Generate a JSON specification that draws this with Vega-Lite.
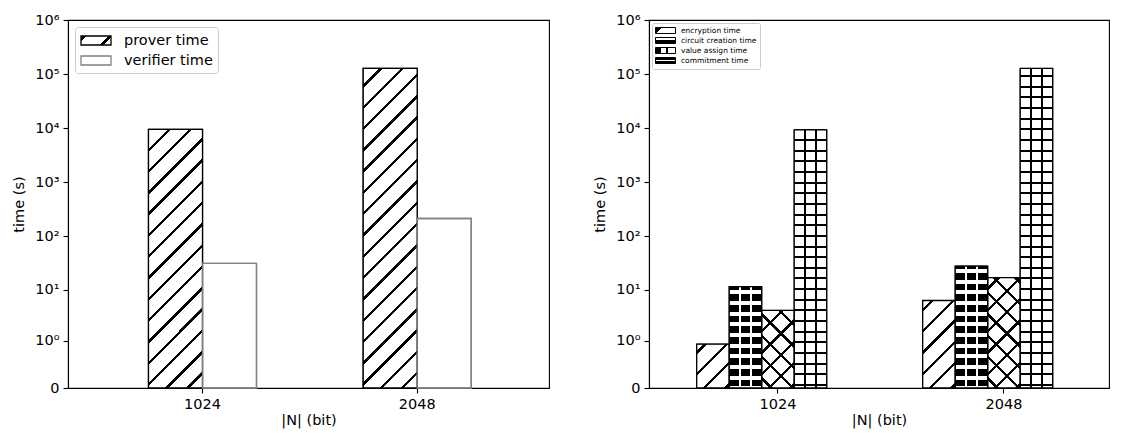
{
  "$schema": "https://vega.github.io/schema/vega-lite/v6.json",
  "background": "white",
  "padding": {"left": 11, "top": 11, "right": 5, "bottom": 5},
  "spacing": 42,
  "config": {
    "font": "DejaVu Sans",
    "view": {"stroke": "#000", "strokeWidth": 1.1},
    "axis": {
      "labelFont": "DejaVu Sans", "labelFontSize": 14.5, "titleFont": "DejaVu Sans", "titleFontSize": 14.5,
      "titleFontWeight": "normal", "labelColor": "#000", "titleColor": "#000", "tickColor": "#000",
      "domainColor": "#000", "tickSize": 5, "tickWidth": 1.1, "domainWidth": 1.1, "grid": false, "labelPadding": 4
    }
  },
  "params": [
    {"name": "stL", "value": [
      {"offset":0.15308,"color":"#fff"},{"offset":0.15308,"color":"#000"},{"offset":0.16114,"color":"#000"},{"offset":0.16114,"color":"#fff"},
      {"offset":0.20355,"color":"#fff"},{"offset":0.20355,"color":"#000"},{"offset":0.21161,"color":"#000"},{"offset":0.21161,"color":"#fff"},
      {"offset":0.25403,"color":"#fff"},{"offset":0.25403,"color":"#000"},{"offset":0.26208,"color":"#000"},{"offset":0.26208,"color":"#fff"},
      {"offset":0.30450,"color":"#fff"},{"offset":0.30450,"color":"#000"},{"offset":0.31256,"color":"#000"},{"offset":0.31256,"color":"#fff"},
      {"offset":0.35498,"color":"#fff"},{"offset":0.35498,"color":"#000"},{"offset":0.36303,"color":"#000"},{"offset":0.36303,"color":"#fff"},
      {"offset":0.40545,"color":"#fff"},{"offset":0.40545,"color":"#000"},{"offset":0.41351,"color":"#000"},{"offset":0.41351,"color":"#fff"},
      {"offset":0.45592,"color":"#fff"},{"offset":0.45592,"color":"#000"},{"offset":0.46398,"color":"#000"},{"offset":0.46398,"color":"#fff"},
      {"offset":0.50640,"color":"#fff"},{"offset":0.50640,"color":"#000"},{"offset":0.51445,"color":"#000"},{"offset":0.51445,"color":"#fff"},
      {"offset":0.55687,"color":"#fff"},{"offset":0.55687,"color":"#000"},{"offset":0.56493,"color":"#000"},{"offset":0.56493,"color":"#fff"},
      {"offset":0.60735,"color":"#fff"},{"offset":0.60735,"color":"#000"},{"offset":0.61540,"color":"#000"},{"offset":0.61540,"color":"#fff"},
      {"offset":0.65782,"color":"#fff"},{"offset":0.65782,"color":"#000"},{"offset":0.66588,"color":"#000"},{"offset":0.66588,"color":"#fff"},
      {"offset":0.70829,"color":"#fff"},{"offset":0.70829,"color":"#000"},{"offset":0.71635,"color":"#000"},{"offset":0.71635,"color":"#fff"},
      {"offset":0.75877,"color":"#fff"},{"offset":0.75877,"color":"#000"},{"offset":0.76682,"color":"#000"},{"offset":0.76682,"color":"#fff"},
      {"offset":0.80924,"color":"#fff"},{"offset":0.80924,"color":"#000"},{"offset":0.81730,"color":"#000"},{"offset":0.81730,"color":"#fff"},
      {"offset":0.85972,"color":"#fff"},{"offset":0.85972,"color":"#000"},{"offset":0.86777,"color":"#000"},{"offset":0.86777,"color":"#fff"},
      {"offset":0.91019,"color":"#fff"},{"offset":0.91019,"color":"#000"},{"offset":0.91825,"color":"#000"},{"offset":0.91825,"color":"#fff"},
      {"offset":0.96066,"color":"#fff"},{"offset":0.96066,"color":"#000"},{"offset":0.96872,"color":"#000"},{"offset":0.96872,"color":"#fff"}
    ]},
    {"name": "stRs", "value": [
      {"offset":0.66692,"color":"#fff"},{"offset":0.66692,"color":"#000"},{"offset":0.67541,"color":"#000"},{"offset":0.67541,"color":"#fff"},
      {"offset":0.72010,"color":"#fff"},{"offset":0.72010,"color":"#000"},{"offset":0.72859,"color":"#000"},{"offset":0.72859,"color":"#fff"},
      {"offset":0.77329,"color":"#fff"},{"offset":0.77329,"color":"#000"},{"offset":0.78178,"color":"#000"},{"offset":0.78178,"color":"#fff"},
      {"offset":0.82647,"color":"#fff"},{"offset":0.82647,"color":"#000"},{"offset":0.83496,"color":"#000"},{"offset":0.83496,"color":"#fff"},
      {"offset":0.87966,"color":"#fff"},{"offset":0.87966,"color":"#000"},{"offset":0.88815,"color":"#000"},{"offset":0.88815,"color":"#fff"},
      {"offset":0.93284,"color":"#fff"},{"offset":0.93284,"color":"#000"},{"offset":0.94133,"color":"#000"},{"offset":0.94133,"color":"#fff"},
      {"offset":0.98603,"color":"#fff"},{"offset":0.98603,"color":"#000"},{"offset":0.99452,"color":"#000"},{"offset":0.99452,"color":"#fff"}
    ]},
    {"name": "stRb", "value": [
      {"offset":0.05533,"color":"rgba(0,0,0,0)"},{"offset":0.05533,"color":"#000"},{"offset":0.07800,"color":"#000"},{"offset":0.07800,"color":"rgba(0,0,0,0)"},
      {"offset":0.19733,"color":"rgba(0,0,0,0)"},{"offset":0.19733,"color":"#000"},{"offset":0.22000,"color":"#000"},{"offset":0.22000,"color":"rgba(0,0,0,0)"},
      {"offset":0.33933,"color":"rgba(0,0,0,0)"},{"offset":0.33933,"color":"#000"},{"offset":0.36200,"color":"#000"},{"offset":0.36200,"color":"rgba(0,0,0,0)"},
      {"offset":0.48133,"color":"rgba(0,0,0,0)"},{"offset":0.48133,"color":"#000"},{"offset":0.50400,"color":"#000"},{"offset":0.50400,"color":"rgba(0,0,0,0)"},
      {"offset":0.62333,"color":"rgba(0,0,0,0)"},{"offset":0.62333,"color":"#000"},{"offset":0.64600,"color":"#000"},{"offset":0.64600,"color":"rgba(0,0,0,0)"},
      {"offset":0.76533,"color":"rgba(0,0,0,0)"},{"offset":0.76533,"color":"#000"},{"offset":0.78800,"color":"#000"},{"offset":0.78800,"color":"rgba(0,0,0,0)"},
      {"offset":0.90733,"color":"rgba(0,0,0,0)"},{"offset":0.90733,"color":"#000"},{"offset":0.93000,"color":"#000"},{"offset":0.93000,"color":"rgba(0,0,0,0)"}
    ]},
    {"name": "stH", "value": [
      {"offset":0.14986,"color":"#fff"},{"offset":0.14986,"color":"#000"},{"offset":0.15530,"color":"#000"},{"offset":0.15530,"color":"#fff"},
      {"offset":0.17880,"color":"#fff"},{"offset":0.17880,"color":"#000"},{"offset":0.18424,"color":"#000"},{"offset":0.18424,"color":"#fff"},
      {"offset":0.20774,"color":"#fff"},{"offset":0.20774,"color":"#000"},{"offset":0.21318,"color":"#000"},{"offset":0.21318,"color":"#fff"},
      {"offset":0.23668,"color":"#fff"},{"offset":0.23668,"color":"#000"},{"offset":0.24212,"color":"#000"},{"offset":0.24212,"color":"#fff"},
      {"offset":0.26562,"color":"#fff"},{"offset":0.26562,"color":"#000"},{"offset":0.27106,"color":"#000"},{"offset":0.27106,"color":"#fff"},
      {"offset":0.29456,"color":"#fff"},{"offset":0.29456,"color":"#000"},{"offset":0.30000,"color":"#000"},{"offset":0.30000,"color":"#fff"},
      {"offset":0.32350,"color":"#fff"},{"offset":0.32350,"color":"#000"},{"offset":0.32894,"color":"#000"},{"offset":0.32894,"color":"#fff"},
      {"offset":0.35244,"color":"#fff"},{"offset":0.35244,"color":"#000"},{"offset":0.35788,"color":"#000"},{"offset":0.35788,"color":"#fff"},
      {"offset":0.38138,"color":"#fff"},{"offset":0.38138,"color":"#000"},{"offset":0.38682,"color":"#000"},{"offset":0.38682,"color":"#fff"},
      {"offset":0.41032,"color":"#fff"},{"offset":0.41032,"color":"#000"},{"offset":0.41576,"color":"#000"},{"offset":0.41576,"color":"#fff"},
      {"offset":0.43926,"color":"#fff"},{"offset":0.43926,"color":"#000"},{"offset":0.44470,"color":"#000"},{"offset":0.44470,"color":"#fff"},
      {"offset":0.46820,"color":"#fff"},{"offset":0.46820,"color":"#000"},{"offset":0.47364,"color":"#000"},{"offset":0.47364,"color":"#fff"},
      {"offset":0.49714,"color":"#fff"},{"offset":0.49714,"color":"#000"},{"offset":0.50258,"color":"#000"},{"offset":0.50258,"color":"#fff"},
      {"offset":0.52608,"color":"#fff"},{"offset":0.52608,"color":"#000"},{"offset":0.53152,"color":"#000"},{"offset":0.53152,"color":"#fff"},
      {"offset":0.55502,"color":"#fff"},{"offset":0.55502,"color":"#000"},{"offset":0.56046,"color":"#000"},{"offset":0.56046,"color":"#fff"},
      {"offset":0.58396,"color":"#fff"},{"offset":0.58396,"color":"#000"},{"offset":0.58940,"color":"#000"},{"offset":0.58940,"color":"#fff"},
      {"offset":0.61290,"color":"#fff"},{"offset":0.61290,"color":"#000"},{"offset":0.61834,"color":"#000"},{"offset":0.61834,"color":"#fff"},
      {"offset":0.64184,"color":"#fff"},{"offset":0.64184,"color":"#000"},{"offset":0.64728,"color":"#000"},{"offset":0.64728,"color":"#fff"},
      {"offset":0.67078,"color":"#fff"},{"offset":0.67078,"color":"#000"},{"offset":0.67622,"color":"#000"},{"offset":0.67622,"color":"#fff"},
      {"offset":0.69972,"color":"#fff"},{"offset":0.69972,"color":"#000"},{"offset":0.70516,"color":"#000"},{"offset":0.70516,"color":"#fff"},
      {"offset":0.72866,"color":"#fff"},{"offset":0.72866,"color":"#000"},{"offset":0.73410,"color":"#000"},{"offset":0.73410,"color":"#fff"},
      {"offset":0.75760,"color":"#fff"},{"offset":0.75760,"color":"#000"},{"offset":0.76304,"color":"#000"},{"offset":0.76304,"color":"#fff"},
      {"offset":0.78654,"color":"#fff"},{"offset":0.78654,"color":"#000"},{"offset":0.79198,"color":"#000"},{"offset":0.79198,"color":"#fff"},
      {"offset":0.81548,"color":"#fff"},{"offset":0.81548,"color":"#000"},{"offset":0.82092,"color":"#000"},{"offset":0.82092,"color":"#fff"},
      {"offset":0.84442,"color":"#fff"},{"offset":0.84442,"color":"#000"},{"offset":0.84986,"color":"#000"},{"offset":0.84986,"color":"#fff"},
      {"offset":0.87336,"color":"#fff"},{"offset":0.87336,"color":"#000"},{"offset":0.87880,"color":"#000"},{"offset":0.87880,"color":"#fff"},
      {"offset":0.90230,"color":"#fff"},{"offset":0.90230,"color":"#000"},{"offset":0.90774,"color":"#000"},{"offset":0.90774,"color":"#fff"},
      {"offset":0.93124,"color":"#fff"},{"offset":0.93124,"color":"#000"},{"offset":0.93668,"color":"#000"},{"offset":0.93668,"color":"#fff"},
      {"offset":0.96018,"color":"#fff"},{"offset":0.96018,"color":"#000"},{"offset":0.96562,"color":"#000"},{"offset":0.96562,"color":"#fff"},
      {"offset":0.98912,"color":"#fff"},{"offset":0.98912,"color":"#000"},{"offset":0.99456,"color":"#000"},{"offset":0.99456,"color":"#fff"}
    ]},
    {"name": "stV", "value": [
      {"offset":0.30246,"color":"rgba(0,0,0,0)"},{"offset":0.30246,"color":"#000"},{"offset":0.36400,"color":"#000"},{"offset":0.36400,"color":"rgba(0,0,0,0)"},
      {"offset":0.63600,"color":"rgba(0,0,0,0)"},{"offset":0.63600,"color":"#000"},{"offset":0.69754,"color":"#000"},{"offset":0.69754,"color":"rgba(0,0,0,0)"}
    ]},
    {"name": "stSB", "value": [
      {"offset":0.65910,"color":"#fff"},{"offset":0.65910,"color":"#000"},{"offset":0.67704,"color":"#000"},{"offset":0.67704,"color":"#fff"},
      {"offset":0.68804,"color":"#fff"},{"offset":0.68804,"color":"#000"},{"offset":0.70598,"color":"#000"},{"offset":0.70598,"color":"#fff"},
      {"offset":0.71698,"color":"#fff"},{"offset":0.71698,"color":"#000"},{"offset":0.73492,"color":"#000"},{"offset":0.73492,"color":"#fff"},
      {"offset":0.74592,"color":"#fff"},{"offset":0.74592,"color":"#000"},{"offset":0.76386,"color":"#000"},{"offset":0.76386,"color":"#fff"},
      {"offset":0.77486,"color":"#fff"},{"offset":0.77486,"color":"#000"},{"offset":0.79280,"color":"#000"},{"offset":0.79280,"color":"#fff"},
      {"offset":0.80380,"color":"#fff"},{"offset":0.80380,"color":"#000"},{"offset":0.82174,"color":"#000"},{"offset":0.82174,"color":"#fff"},
      {"offset":0.83274,"color":"#fff"},{"offset":0.83274,"color":"#000"},{"offset":0.85068,"color":"#000"},{"offset":0.85068,"color":"#fff"},
      {"offset":0.86168,"color":"#fff"},{"offset":0.86168,"color":"#000"},{"offset":0.87962,"color":"#000"},{"offset":0.87962,"color":"#fff"},
      {"offset":0.89062,"color":"#fff"},{"offset":0.89062,"color":"#000"},{"offset":0.90856,"color":"#000"},{"offset":0.90856,"color":"#fff"},
      {"offset":0.91956,"color":"#fff"},{"offset":0.91956,"color":"#000"},{"offset":0.93750,"color":"#000"},{"offset":0.93750,"color":"#fff"},
      {"offset":0.94850,"color":"#fff"},{"offset":0.94850,"color":"#000"},{"offset":0.96644,"color":"#000"},{"offset":0.96644,"color":"#fff"},
      {"offset":0.97744,"color":"#fff"},{"offset":0.97744,"color":"#000"},{"offset":0.99538,"color":"#000"},{"offset":0.99538,"color":"#fff"}
    ]},
    {"name": "stSV", "value": [
      {"offset":0.29631,"color":"rgba(255,255,255,0)"},{"offset":0.29631,"color":"#fff"},{"offset":0.37015,"color":"#fff"},{"offset":0.37015,"color":"rgba(255,255,255,0)"},
      {"offset":0.62985,"color":"rgba(255,255,255,0)"},{"offset":0.62985,"color":"#fff"},{"offset":0.70369,"color":"#fff"},{"offset":0.70369,"color":"rgba(255,255,255,0)"}
    ]}
  ],
  "resolve": {
    "scale": {"x": "independent", "y": "independent", "xOffset": "independent", "stroke": "independent", "fill": "independent"},
    "legend": {"stroke": "independent", "fill": "independent"}
  },
  "hconcat": [
    {
      "width": 481,
      "height": 368,
      "data": {"values": [
        {"N": "1024", "series": "prover time", "time": 9440},
        {"N": "1024", "series": "verifier time", "time": 31.2},
        {"N": "2048", "series": "prover time", "time": 127300},
        {"N": "2048", "series": "verifier time", "time": 212}
      ]},
      "encoding": {
        "x": {"field": "N", "type": "nominal",
          "scale": {"type": "band", "paddingInner": 0.497, "paddingOuter": 0.3687, "align": 0.5085, "round": false},
          "axis": {"title": "|N| (bit)", "labelAngle": 0, "titlePadding": 3}},
        "xOffset": {"field": "series", "type": "nominal",
          "scale": {"domain": ["prover time", "verifier time"], "paddingInner": 0, "paddingOuter": 0}},
        "y": {"field": "time", "type": "quantitative",
          "scale": {"type": "symlog", "constant": 0.155, "domain": [0, 1000000], "nice": false},
          "axis": {"title": "time (s)", "values": [0, 1, 10, 100, 1000, 10000, 100000, 1000000],
            "labelExpr": "datum.value < 0.5 ? '0' : '10' + ['⁰','¹','²','³','⁴','⁵','⁶'][round(log(datum.value)/LN10)]",
            "labelFlush": false, "labelOverlap": false, "titlePadding": 8}}
      },
      "layer": [
        {
          "mark": {"type": "bar", "strokeWidth": 1.3},
          "encoding": {
            "fill": {"field": "series", "type": "nominal",
              "scale": {"domain": ["prover time", "verifier time"],
                "range": [{"expr": "{gradient:'linear',x1:0,y1:0,x2:1.1927,y2:0.3578,stops:[{offset:0.15,color:'#000'},{offset:0.15,color:'#fff'},{offset:0.7,color:'#fff'},{offset:0.7,color:'#000'},{offset:0.81,color:'#000'},{offset:0.81,color:'#fff'}]}"}, "#ffffff"]},
              "legend": {"title": null, "orient": "top-left", "offset": 7, "padding": 5, "rowPadding": 4,
                "symbolType": "M-1,-0.6H3V0.6H-1Z", "symbolSize": 225, "symbolStrokeWidth": 1.3,
                "labelFontSize": 14.5, "labelFont": "DejaVu Sans", "labelColor": "#000", "labelOffset": 27,
                "strokeColor": "#cccccc", "fillColor": "#ffffff", "cornerRadius": 3}},
            "stroke": {"field": "series", "type": "nominal",
              "scale": {"domain": ["prover time", "verifier time"], "range": ["#000000", "#808080"]},
              "legend": {"title": null, "orient": "top-left", "offset": 7, "padding": 5, "rowPadding": 4,
                "symbolType": "M-1,-0.6H3V0.6H-1Z", "symbolSize": 225, "symbolStrokeWidth": 1.3,
                "labelFontSize": 14.5, "labelFont": "DejaVu Sans", "labelColor": "#000", "labelOffset": 27,
                "strokeColor": "#cccccc", "fillColor": "#ffffff", "cornerRadius": 3}}
          }
        },
        {
          "transform": [{"filter": "datum.series === 'prover time'"}],
          "mark": {"type": "bar", "fill": {"expr": "{gradient:'linear',x1:54*(23.46963*log(1+datum.time/0.155)-368)/(2916+pow(23.46963*log(1+datum.time/0.155),2)),y1:23.46963*log(1+datum.time/0.155)*(23.46963*log(1+datum.time/0.155)-368)/(2916+pow(23.46963*log(1+datum.time/0.155),2)),x2:54*(23.46963*log(1+datum.time/0.155)+54)/(2916+pow(23.46963*log(1+datum.time/0.155),2)),y2:23.46963*log(1+datum.time/0.155)*(23.46963*log(1+datum.time/0.155)+54)/(2916+pow(23.46963*log(1+datum.time/0.155),2)),stops:stL}"}}
        },
        {
          "mark": {"type": "bar", "filled": false, "strokeWidth": 1.3},
          "encoding": {
            "stroke": {"field": "series", "type": "nominal", "legend": null}
          }
        }
      ]
    },
    {
      "width": 460,
      "height": 368,
      "data": {"values": [
        {"N": "1024", "series": "encryption time", "time": 0.85},
        {"N": "1024", "series": "circuit creation time", "time": 11.5},
        {"N": "1024", "series": "value assign time", "time": 4.07},
        {"N": "1024", "series": "commitment time", "time": 9300},
        {"N": "2048", "series": "encryption time", "time": 6.3},
        {"N": "2048", "series": "circuit creation time", "time": 27.8},
        {"N": "2048", "series": "value assign time", "time": 16.9},
        {"N": "2048", "series": "commitment time", "time": 127000}
      ]},
      "encoding": {
        "x": {"field": "N", "type": "nominal",
          "scale": {"type": "band", "paddingInner": 0.28097, "paddingOuter": 0.15819, "align": 0.6671, "round": false},
          "axis": {"title": "|N| (bit)", "labelAngle": 0, "titlePadding": 3}},
        "xOffset": {"field": "series", "type": "nominal",
          "scale": {"domain": ["encryption time", "circuit creation time", "value assign time", "commitment time"], "paddingInner": 0, "paddingOuter": 0.5, "align": 0}},
        "y": {"field": "time", "type": "quantitative",
          "scale": {"type": "symlog", "constant": 0.155, "domain": [0, 1000000], "nice": false},
          "axis": {"title": "time (s)", "values": [0, 1, 10, 100, 1000, 10000, 100000, 1000000],
            "labelExpr": "datum.value < 0.5 ? '0' : '10' + ['⁰','¹','²','³','⁴','⁵','⁶'][round(log(datum.value)/LN10)]",
            "labelFlush": false, "labelOverlap": false, "titlePadding": 8}}
      },
      "layer": [
        {
          "mark": {"type": "bar", "strokeWidth": 1},
          "encoding": {
            "fill": {"field": "series", "type": "nominal",
              "scale": {"domain": ["encryption time", "circuit creation time", "value assign time", "commitment time"],
                "range": [
                  {"expr": "{gradient:'linear',x1:0,y1:0,x2:1.1927,y2:0.3578,stops:[{offset:0.24,color:'#000'},{offset:0.24,color:'#fff'}]}"},
                  {"expr": "{gradient:'linear',x1:0,y1:0,x2:0,y2:1,stops:[{offset:0.12,color:'#000'},{offset:0.12,color:'#fff'},{offset:0.42,color:'#fff'},{offset:0.42,color:'#000'}]}"},
                  {"expr": "{gradient:'linear',x1:0,y1:0,x2:1,y2:0,stops:[{offset:0.3,color:'#000'},{offset:0.3,color:'#fff'},{offset:0.55,color:'#fff'},{offset:0.55,color:'#000'},{offset:0.65,color:'#000'},{offset:0.65,color:'#fff'}]}"},
                  {"expr": "{gradient:'linear',x1:0,y1:0,x2:0,y2:1,stops:[{offset:0.4,color:'#000'},{offset:0.4,color:'#fff'},{offset:0.6,color:'#fff'},{offset:0.6,color:'#000'}]}"}
                ]},
              "legend": {"title": null, "orient": "top-left", "offset": 3, "padding": 3, "rowPadding": -1.3,
                "symbolType": "M-1,-0.75H4V0.75H-1Z", "symbolSize": 64, "symbolStrokeWidth": 1,
                "labelFontSize": 7.5, "labelFont": "DejaVu Sans", "labelColor": "#000", "labelOffset": 17,
                "labelExpr": "datum.label + '\u2003\u2003'",
                "strokeColor": "#cccccc", "fillColor": "#ffffff", "cornerRadius": 2}},
            "stroke": {"field": "series", "type": "nominal",
              "scale": {"domain": ["encryption time", "circuit creation time", "value assign time", "commitment time"], "range": ["#000000", "#000000", "#000000", "#000000"]},
              "legend": {"title": null, "orient": "top-left", "offset": 3, "padding": 3, "rowPadding": -1.3,
                "symbolType": "M-1,-0.75H4V0.75H-1Z", "symbolSize": 64, "symbolStrokeWidth": 1,
                "labelFontSize": 7.5, "labelFont": "DejaVu Sans", "labelColor": "#000", "labelOffset": 17,
                "labelExpr": "datum.label + '\u2003\u2003'",
                "strokeColor": "#cccccc", "fillColor": "#ffffff", "cornerRadius": 2}}
          }
        },
        {
          "transform": [{"filter": "datum.series === 'encryption time' || datum.series === 'value assign time'"}],
          "mark": {"type": "bar", "fill": {"expr": "{gradient:'linear',x1:32.5*(23.46963*log(1+datum.time/0.155)-368)/(1056.25+pow(23.46963*log(1+datum.time/0.155),2)),y1:23.46963*log(1+datum.time/0.155)*(23.46963*log(1+datum.time/0.155)-368)/(1056.25+pow(23.46963*log(1+datum.time/0.155),2)),x2:32.5*(23.46963*log(1+datum.time/0.155)+32.5)/(1056.25+pow(23.46963*log(1+datum.time/0.155),2)),y2:23.46963*log(1+datum.time/0.155)*(23.46963*log(1+datum.time/0.155)+32.5)/(1056.25+pow(23.46963*log(1+datum.time/0.155),2)),stops:stRs}"}}
        },
        {
          "transform": [{"filter": "datum.series === 'value assign time'"}],
          "mark": {"type": "bar", "fill": {"expr": "{gradient:'linear',x1:-32.5*23.46963*log(1+datum.time/0.155)/(1056.25+pow(23.46963*log(1+datum.time/0.155),2)),y1:pow(23.46963*log(1+datum.time/0.155),2)/(1056.25+pow(23.46963*log(1+datum.time/0.155),2)),x2:32.5*(150-23.46963*log(1+datum.time/0.155))/(1056.25+pow(23.46963*log(1+datum.time/0.155),2)),y2:-23.46963*log(1+datum.time/0.155)*(150-23.46963*log(1+datum.time/0.155))/(1056.25+pow(23.46963*log(1+datum.time/0.155),2)),stops:stRb}"}}
        },
        {
          "transform": [{"filter": "datum.series === 'commitment time'"}],
          "mark": {"type": "bar", "fill": {"expr": "{gradient:'linear',x1:0,y1:1-368/(23.46963*log(1+datum.time/0.155)),x2:0,y2:1,stops:stH}"}}
        },
        {
          "transform": [{"filter": "datum.series === 'commitment time'"}],
          "mark": {"type": "bar", "fill": {"expr": "{gradient:'linear',x1:0,y1:0,x2:1,y2:0,stops:stV}"}}
        },
        {
          "transform": [{"filter": "datum.series === 'circuit creation time'"}],
          "mark": {"type": "bar", "fill": {"expr": "{gradient:'linear',x1:0,y1:1-368/(23.46963*log(1+datum.time/0.155)),x2:0,y2:1,stops:stSB}"}}
        },
        {
          "transform": [{"filter": "datum.series === 'circuit creation time'"}],
          "mark": {"type": "bar", "fill": {"expr": "{gradient:'linear',x1:0,y1:0,x2:1,y2:0,stops:stSV}"}}
        },
        {
          "mark": {"type": "bar", "filled": false, "strokeWidth": 1.3},
          "encoding": {
            "stroke": {"field": "series", "type": "nominal", "legend": null}
          }
        }
      ]
    }
  ]
}
